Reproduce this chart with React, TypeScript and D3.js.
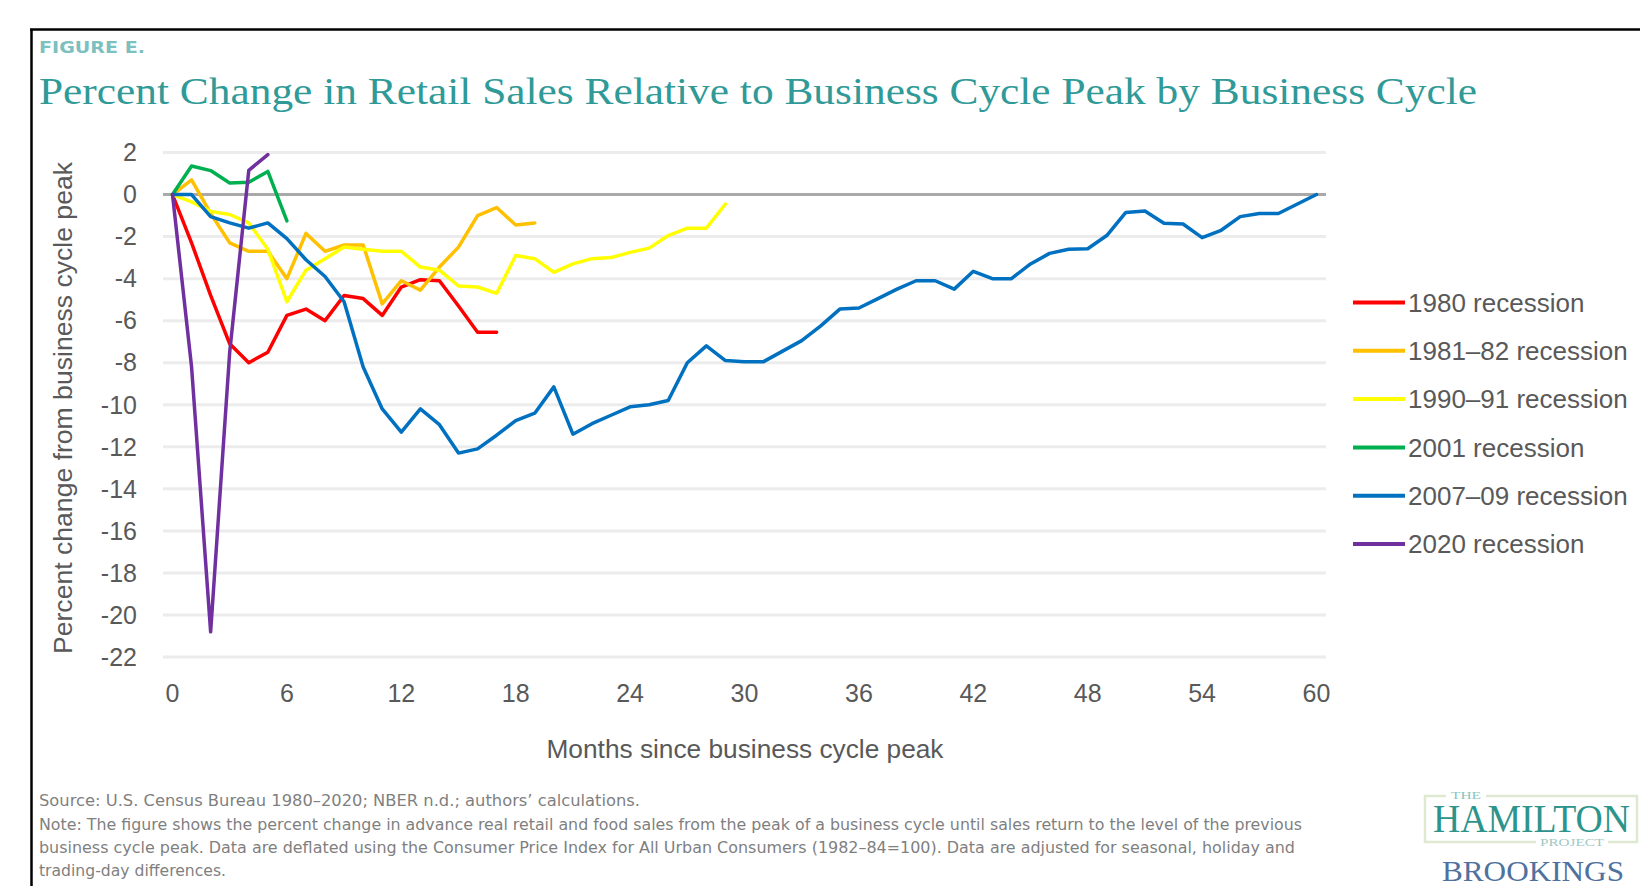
import React from "react";
import * as d3 from "d3";

const months: number[] = d3.range(0, 61);
const xTicks: number[] = [0, 6, 12, 18, 24, 30, 36, 42, 48, 54, 60];
const yTicks: number[] = [2, 0, -2, -4, -6, -8, -10, -12, -14, -16, -18, -20, -22];

const seriesNames: string[] = [
  "1980 recession",
  "1981\u201382 recession",
  "1990\u201391 recession",
  "2001 recession",
  "2007\u201309 recession",
  "2020 recession",
];
const seriesColors: string[] = ["#ff0000", "#ffc000", "#ffff00", "#00b050", "#0070c0", "#7030a0"];

const r1980: number[] = [0, -2.3, -4.8, -7.1, -8.0, -7.5, -5.75, -5.45, -6.0, -4.8, -4.95, -5.75, -4.4, -4.05, -4.1, -5.3, -6.55, -6.55];
const r1981: number[] = [0, 0.7, -0.9, -2.3, -2.7, -2.7, -4.0, -1.85, -2.7, -2.4, -2.4, -5.2, -4.1, -4.55, -3.45, -2.5, -1.0, -0.62, -1.45, -1.35];
const r1990: number[] = [0, -0.35, -0.8, -0.95, -1.35, -2.6, -5.1, -3.6, -3.05, -2.5, -2.6, -2.7, -2.7, -3.45, -3.6, -4.35, -4.4, -4.7, -2.9, -3.05, -3.7, -3.3, -3.05, -3.0, -2.75, -2.55, -1.95, -1.6, -1.6, -0.45];
const r2001: number[] = [0, 1.36, 1.14, 0.55, 0.58, 1.1, -1.25];
const r2007: number[] = [0, 0, -1.05, -1.35, -1.6, -1.35, -2.1, -3.1, -3.9, -5.1, -8.2, -10.2, -11.3, -10.2, -10.95, -12.3, -12.1, -11.45, -10.75, -10.4, -9.15, -11.4, -10.9, -10.5, -10.1, -10.0, -9.8, -8.0, -7.2, -7.9, -7.95, -7.95, -7.45, -6.95, -6.25, -5.45, -5.4, -4.95, -4.5, -4.1, -4.1, -4.5, -3.65, -4.0, -4.0, -3.3, -2.8, -2.6, -2.58, -1.95, -0.85, -0.78, -1.37, -1.4, -2.05, -1.7, -1.05, -0.9, -0.9, -0.45, 0];
const r2020: number[] = [0, -8.2, -20.8, -7.5, 1.15, 1.9];

const seriesValues: number[][] = [r1980, r1981, r1990, r2001, r2007, r2020];

const figureLabel = "FIGURE E.";
const titleText = "Percent Change in Retail Sales Relative to Business Cycle Peak by Business Cycle";
const yTitle = "Percent change from business cycle peak";
const xTitle = "Months since business cycle peak";
const sourceText = "Source: U.S. Census Bureau 1980\u20132020; NBER n.d.; authors\u2019 calculations.";
const noteLines: string[] = [
  "Note: The figure shows the percent change in advance real retail and food sales from the peak of a business cycle until sales return to the level of the previous",
  "business cycle peak. Data are deflated using the Consumer Price Index for All Urban Consumers (1982\u201384=100). Data are adjusted for seasonal, holiday and",
  "trading-day differences.",
];
const noteLengths: number[] = [1263, 1256, 187];

export default function App() {
  const W = 1640;
  const H = 886;
  const x = d3.scaleLinear().domain([0, 60]).range([172.5, 1316.5]);
  const y = d3.scaleLinear().domain([-22, 2]).range([657, 152.5]);
  const gridX0 = 163;
  const gridX1 = 1326;
  const line = d3
    .line<number>()
    .x((_, i) => x(months[i]))
    .y((d) => y(d));

  const axisFont = "'Liberation Sans', Arial, sans-serif";
  const textGray = "#595959";

  return (
    <div style={{ position: "absolute", left: 0, top: 0 }}>
      <svg width={W} height={H} style={{ display: "block", background: "#ffffff" }}>
        <rect x={0} y={0} width={W} height={H} fill="#ffffff" />
        {/* frame */}
        <line x1={31.5} y1={29} x2={31.5} y2={H} stroke="#000" strokeWidth={2.5} />
        <line x1={30} y1={29.5} x2={W} y2={29.5} stroke="#000" strokeWidth={2.5} />

        <text x={39} y={53} fontFamily="'Liberation Sans Narrow', 'DejaVu Sans Condensed', sans-serif" fontWeight="bold" fontSize={15} fill="#7cc0c0" textLength={106} lengthAdjust="spacingAndGlyphs">
          {figureLabel}
        </text>
        <text x={39} y={104} fontFamily="'Liberation Serif', 'DejaVu Serif', serif" fontSize={38} fill="#2f9a97" textLength={1438} lengthAdjust="spacingAndGlyphs">
          {titleText}
        </text>

        {/* gridlines */}
        {yTicks.map((t) => (
          <line key={"g" + t} x1={gridX0} x2={gridX1} y1={y(t)} y2={y(t)} stroke={t === 0 ? "#a9a9a9" : "#ececec"} strokeWidth={3} />
        ))}
        {/* y tick labels */}
        {yTicks.map((t) => (
          <text key={"yt" + t} x={137} y={y(t)} dy="0.35em" textAnchor="end" fontFamily={axisFont} fontSize={25} fill={textGray}>
            {String(t)}
          </text>
        ))}
        {/* x tick labels */}
        {xTicks.map((t) => (
          <text key={"xt" + t} x={x(t)} y={702} textAnchor="middle" fontFamily={axisFont} fontSize={25} fill={textGray}>
            {String(t)}
          </text>
        ))}

        <text transform="translate(72,408) rotate(-90)" textAnchor="middle" fontFamily={axisFont} fontSize={25} fill={textGray} textLength={492} lengthAdjust="spacingAndGlyphs">
          {yTitle}
        </text>
        <text x={745} y={758} textAnchor="middle" fontFamily={axisFont} fontSize={25} fill={textGray} textLength={397} lengthAdjust="spacingAndGlyphs">
          {xTitle}
        </text>

        {/* series */}
        {seriesValues.map((vals, i) => (
          <path key={"s" + i} d={line(vals) || ""} fill="none" stroke={seriesColors[i]} strokeWidth={3.5} strokeLinejoin="round" strokeLinecap="round" />
        ))}

        {/* legend */}
        {seriesNames.map((name, i) => {
          const cy = 302.5 + i * 48.3;
          return (
            <g key={"l" + i}>
              <line x1={1353} x2={1405} y1={cy} y2={cy} stroke={seriesColors[i]} strokeWidth={4} />
              <text x={1408} y={cy} dy="0.35em" fontFamily={axisFont} fontSize={26} fill={textGray}>
                {name}
              </text>
            </g>
          );
        })}

        {/* footer */}
        <text x={39} y={806} fontFamily="'Liberation Sans Narrow', 'DejaVu Sans Condensed', sans-serif" fontSize={15} fill="#7f7f7f" textLength={601} lengthAdjust="spacingAndGlyphs">
          {sourceText}
        </text>
        {noteLines.map((ln, i) => (
          <text key={"n" + i} x={39} y={830 + i * 23} fontFamily="'Liberation Sans Narrow', 'DejaVu Sans Condensed', sans-serif" fontSize={15} fill="#7f7f7f" textLength={noteLengths[i]} lengthAdjust="spacingAndGlyphs">
            {ln}
          </text>
        ))}

        {/* logo */}
        <rect x={1425} y={796} width={212} height={46} fill="none" stroke="#dfe9d2" strokeWidth={2.5} />
        <line x1={1446} x2={1486} y1={796} y2={796} stroke="#ffffff" strokeWidth={4} />
        <text x={1466} y={799} textAnchor="middle" fontFamily="'Liberation Serif', serif" fontSize={10} fill="#8cc4bd" textLength={30} lengthAdjust="spacingAndGlyphs">
          THE
        </text>
        <text x={1433} y={832} fontFamily="'Liberation Serif', serif" fontSize={40} fill="#2d948c" textLength={197} lengthAdjust="spacingAndGlyphs">
          HAMILTON
        </text>
        <line x1={1536} x2={1608} y1={842} y2={842} stroke="#ffffff" strokeWidth={4} />
        <text x={1572} y={846} textAnchor="middle" fontFamily="'Liberation Serif', serif" fontSize={10} fill="#9fc9c4" textLength={64} lengthAdjust="spacingAndGlyphs">
          PROJECT
        </text>
        <text x={1442} y={881} fontFamily="'Liberation Serif', serif" fontSize={30} fill="#4f719e" textLength={182} lengthAdjust="spacingAndGlyphs">
          BROOKINGS
        </text>
      </svg>
    </div>
  );
}
